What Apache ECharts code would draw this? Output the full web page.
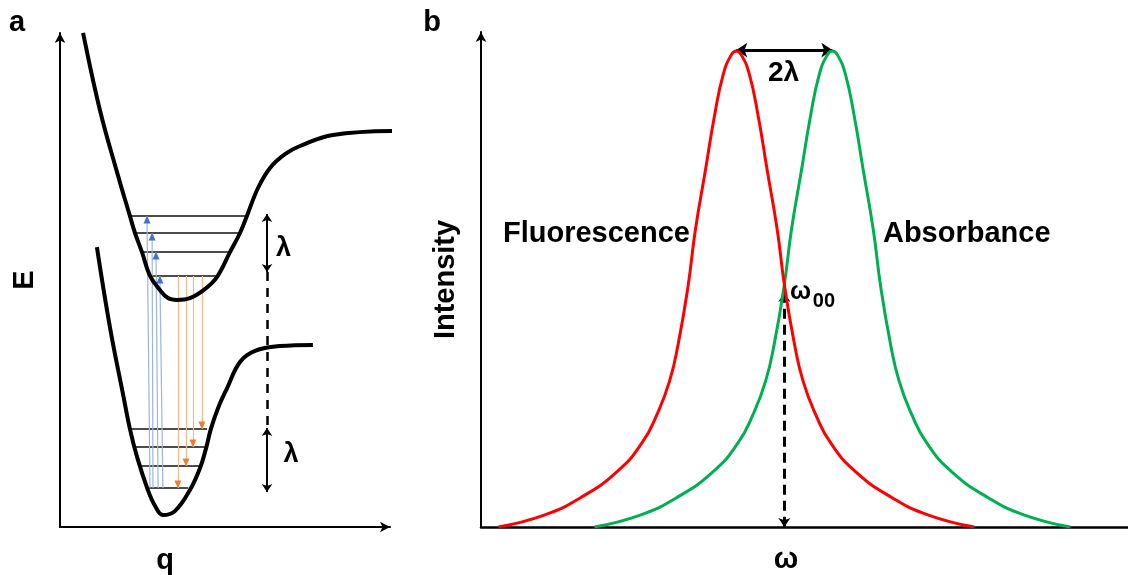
<!DOCTYPE html>
<html>
<head>
<meta charset="utf-8">
<title>Potential energy curves and Stokes shift</title>
<script src="https://cdn.jsdelivr.net/npm/echarts@6/dist/echarts.min.js"></script>
<style>
  html, body { margin: 0; padding: 0; background: #fff; }
  #chart { width: 1128px; height: 575px; }
</style>
</head>
<body>
<div id="chart"></div>
<script>
// ---- panel a : potential energy curves (q, E) ----
var upperCurve = [[7.7,164.7],[13.3,139],[19,118.3],[23.3,103.7],[25,98],[27.3,91.7],[30,83.7],[33.3,79],[36,76.3],[39,75.7],[43.3,76.3],[48.3,79.3],[52.3,83.3],[56.7,91.7],[60,98],[62.3,103.7],[66,113],[70,119.7],[75,124.3],[80,127],[91,130.7],[113,132]]
var lowerCurve = [[12.3,93.3],[16.7,66.3],[21,44.3],[23.3,32.7],[25.7,23.3],[29.3,12.3],[31.7,7],[34.3,4],[38.3,5.3],[43.3,12.3],[46.7,19.7],[48.7,26.3],[50.3,32.7],[52.7,39.7],[55.7,46.3],[60,55],[65,58.7],[73.3,60.3],[84.3,60.7]]
// vibrational levels: [qFrom, qTo, E]
var upperLevels = [[23.3,62.3,103.7],[25,60,98],[27.3,56.7,91.7],[30,52.3,83.7]]
var lowerLevels = [[23.3,49,32.7],[24.3,48.3,26.7],[26,46.7,20.3],[29.3,42.7,13]]
// transitions: [qFrom, EFrom, qTo, ETo]
var absorption = [[30,13,29,103.7],[31,13,30.7,98],[32.7,13,32,91.7],[34.3,13,33.3,83.7]]
var emission = [[39.3,83.7,39.3,13],[42,83.7,42,20.3],[44.3,83.7,44.3,26.7],[47.3,83.7,47.3,32.7]]
var lambdaArrows = [[69,104.3,69,85],[69,33,69,11.7]]
var lambdaDash = [[69,85,69,33]]

// ---- panel b : spectra (omega, intensity) ----
var fluorescence = [[3.5,0],[12.7,2.5],[19.9,6.1],[27.3,11.6],[32.3,17.6],[35.3,23.5],[37.9,30.7],[39.7,38.9],[41.6,50.6],[43.1,62.6],[45.1,75],[46.9,86.3],[48.7,95.2],[50.3,99.2],[51.3,100],[52.3,99.2],[53.9,95.2],[55.7,86.3],[57.5,75],[59.5,62.6],[61,50.6],[62.9,38.9],[64.7,30.7],[67.3,23.5],[70.3,17.6],[75.3,11.6],[82.7,6.1],[89.9,2.5],[99.1,0]]
var absorbance = [[22.8,0],[32,2.5],[39.2,6.1],[46.6,11.6],[51.6,17.6],[54.6,23.5],[57.2,30.7],[59,38.9],[60.9,50.6],[62.4,62.6],[64.4,75],[66.2,86.3],[68,95.2],[69.6,99.2],[70.6,100],[71.6,99.2],[73.2,95.2],[75,86.3],[76.8,75],[78.8,62.6],[80.3,50.6],[82.2,38.9],[84,30.7],[86.6,23.5],[89.6,17.6],[94.6,11.6],[102,6.1],[109.2,2.5],[118.4,0]]
var shiftArrow = [[51.3,100.2,70.6,100.2]]
var omega00 = [[60.95,49.2,60.95,0]]

var FONT = '"Liberation Sans", Arial, sans-serif'
var chart = echarts.init(document.getElementById('chart'))

function segs (list) {
  return list.map(function (s) { return { coords: [[s[0], s[1]], [s[2], s[3]]] } })
}
function levelSegs (list) {
  return list.map(function (l) { return { coords: [[l[0], l[2]], [l[1], l[2]]] } })
}
function tips (list) {
  return list.map(function (s) { return [s[2], s[3]] })
}
// text placed in data coordinates
function txt (x, y, text, size) {
  return {
    value: [x, y],
    label: { formatter: text, fontSize: size, color: '#000', opacity: 1, textBorderWidth: 0, fontWeight: 'bold', fontFamily: FONT }
  }
}

var hidden = {
  axisTick: { show: false },
  axisLabel: { show: false },
  splitLine: { show: false }
}
var nameStyle = { fontSize: 29, fontWeight: 'bold', fontFamily: FONT, color: '#000' }
// scatter defaults to opacity 0.8, which greys the labels
var textSeries = {
  type: 'scatter', symbolSize: 0, silent: true,
  itemStyle: { color: '#000', opacity: 1 },
  label: { show: true, position: 'inside', color: '#000', opacity: 1, textBorderWidth: 0 }
}

var option = {
  animation: false,
  backgroundColor: '#fff',
  grid: [
    { left: 60, top: 33, width: 330, height: 494 },
    { left: 481, top: 32, width: 650, height: 495 }
  ],
  xAxis: [
    Object.assign({ type: 'value', gridIndex: 0, min: 0, max: 110,
      axisLine: { show: true, symbol: ['none', 'arrow'], symbolSize: [8, 10], lineStyle: { color: '#000', width: 2 } } }, hidden),
    Object.assign({ type: 'value', gridIndex: 1, min: 0, max: 130,
      axisLine: { show: true, lineStyle: { color: '#000', width: 2.5 } } }, hidden)
  ],
  yAxis: [
    Object.assign({ type: 'value', gridIndex: 0, min: 0, max: 164.67,
      name: 'E', nameLocation: 'middle', nameGap: 21, nameTextStyle: nameStyle,
      axisLine: { show: true, symbol: ['none', 'arrow'], symbolSize: [8, 10], lineStyle: { color: '#000', width: 2 } } }, hidden),
    Object.assign({ type: 'value', gridIndex: 1, min: 0, max: 104,
      name: 'Intensity', nameLocation: 'middle', nameGap: 21, nameTextStyle: nameStyle,
      axisLine: { show: true, symbol: ['none', 'arrow'], symbolSize: [8, 10], lineStyle: { color: '#000', width: 2 } } }, hidden)
  ],
  series: [
    // panel a
    {
      type: 'lines', coordinateSystem: 'cartesian2d', xAxisIndex: 0, yAxisIndex: 0,
      lineStyle: { color: '#111', width: 1.6, opacity: 1 },
      data: levelSegs(upperLevels.concat(lowerLevels))
    },
    {
      type: 'lines', coordinateSystem: 'cartesian2d', xAxisIndex: 0, yAxisIndex: 0,
      lineStyle: { color: '#9db5e0', width: 1.2, opacity: 1 },
      data: segs(absorption)
    },
    {
      type: 'scatter', xAxisIndex: 0, yAxisIndex: 0, symbol: 'triangle', symbolSize: [7, 8],
      symbolOffset: [0, 3.5], itemStyle: { color: '#4472c4', opacity: 1 }, data: tips(absorption)
    },
    {
      type: 'lines', coordinateSystem: 'cartesian2d', xAxisIndex: 0, yAxisIndex: 0,
      lineStyle: { color: '#f5b88f', width: 1.2, opacity: 1 },
      data: segs(emission)
    },
    {
      type: 'scatter', xAxisIndex: 0, yAxisIndex: 0, symbol: 'triangle', symbolSize: [7, 8],
      symbolRotate: 180, symbolOffset: [0, -3.5], itemStyle: { color: '#ed7d31', opacity: 1 }, data: tips(emission)
    },
    {
      type: 'line', xAxisIndex: 0, yAxisIndex: 0, data: upperCurve, smooth: 0.4,
      showSymbol: false, clip: false, lineStyle: { color: '#000', width: 4 }
    },
    {
      type: 'line', xAxisIndex: 0, yAxisIndex: 0, data: lowerCurve, smooth: 0.4,
      showSymbol: false, clip: false, lineStyle: { color: '#000', width: 4 }
    },
    {
      type: 'lines', coordinateSystem: 'cartesian2d', xAxisIndex: 0, yAxisIndex: 0,
      symbol: ['arrow', 'arrow'], symbolSize: 8,
      lineStyle: { color: '#000', width: 2, opacity: 1 },
      data: segs(lambdaArrows)
    },
    {
      type: 'lines', coordinateSystem: 'cartesian2d', xAxisIndex: 0, yAxisIndex: 0,
      lineStyle: { color: '#000', width: 2.5, type: [9, 7], opacity: 1 },
      data: segs(lambdaDash)
    },
    Object.assign({ xAxisIndex: 0, yAxisIndex: 0,
      data: [txt(74.5, 92.9, 'λ', 27), txt(77, 24.2, 'λ', 27)] }, textSeries),
    // panel b
    {
      type: 'line', xAxisIndex: 1, yAxisIndex: 1, data: absorbance, smooth: 0.5,
      showSymbol: false, lineStyle: { color: '#00b050', width: 3 }
    },
    {
      type: 'line', xAxisIndex: 1, yAxisIndex: 1, data: fluorescence, smooth: 0.5,
      showSymbol: false, lineStyle: { color: '#ff0000', width: 3 }
    },
    {
      type: 'lines', coordinateSystem: 'cartesian2d', xAxisIndex: 1, yAxisIndex: 1,
      symbol: ['arrow', 'arrow'], symbolSize: 11,
      lineStyle: { color: '#000', width: 3, opacity: 1 },
      data: segs(shiftArrow)
    },
    {
      type: 'lines', coordinateSystem: 'cartesian2d', xAxisIndex: 1, yAxisIndex: 1,
      symbol: ['arrow', 'arrow'], symbolSize: 9,
      lineStyle: { color: '#000', width: 3, type: [10, 6], opacity: 1 },
      data: segs(omega00)
    },
    Object.assign({ xAxisIndex: 1, yAxisIndex: 1,
      data: [
        txt(23.2, 61.6, 'Fluorescence', 29),
        txt(97.6, 61.6, 'Absorbance', 29),
        txt(60.8, 95.3, '2λ', 28),
        txt(64.2, 49.4, 'ω', 25),
        txt(68.9, 47.4, '00', 20)
      ] }, textSeries)
  ],
  graphic: [
    { type: 'text', x: 17, y: 23, style: { text: 'a', font: 'bold 29px ' + FONT, fill: '#000', align: 'center', verticalAlign: 'middle' } },
    { type: 'text', x: 432, y: 23, style: { text: 'b', font: 'bold 29px ' + FONT, fill: '#000', align: 'center', verticalAlign: 'middle' } },
    { type: 'text', x: 165, y: 561, style: { text: 'q', font: 'bold 29px ' + FONT, fill: '#000', align: 'center', verticalAlign: 'middle' } },
    { type: 'text', x: 786, y: 560, style: { text: 'ω', font: 'bold 29px ' + FONT, fill: '#000', align: 'center', verticalAlign: 'middle' } }
  ]
}
chart.setOption(option)
</script>
</body>
</html>
